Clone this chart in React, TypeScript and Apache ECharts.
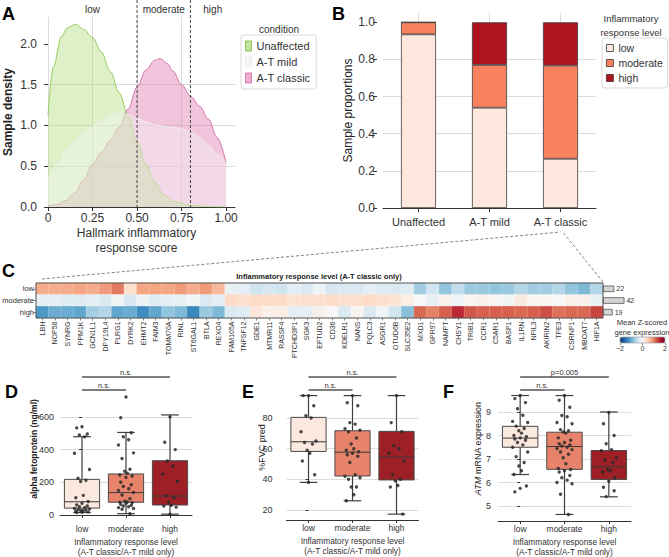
import React, { useEffect, useRef } from 'react';
import * as echarts from 'echarts';

const FONT = "'Liberation Sans', Arial, Helvetica, sans-serif";
const INK = '#333333';
const GRIDC = '#dcdcdc';

// ---------- Panel A: density curves ----------
const A_UNAFFECTED = [[0, 1.13], [0.03, 1.72], [0.075, 2.09], [0.11, 2.2], [0.155, 2.24], [0.2, 2.18], [0.25, 2.08], [0.3, 1.9], [0.35, 1.66], [0.4, 1.4], [0.45, 1.12], [0.5, 0.8], [0.55, 0.52], [0.6, 0.3], [0.65, 0.15], [0.7, 0.07], [0.8, 0.02], [0.9, 0.005], [1.0, 0]];
const A_MILD = [[0, 0.35], [0.05, 0.52], [0.1, 0.69], [0.15, 0.82], [0.2, 0.92], [0.25, 0.99], [0.3, 1.06], [0.35, 1.12], [0.4, 1.15], [0.45, 1.13], [0.5, 1.09], [0.55, 1.04], [0.6, 1.01], [0.65, 0.99], [0.7, 0.98], [0.75, 0.96], [0.8, 0.92], [0.85, 0.85], [0.9, 0.76], [0.95, 0.65], [1.0, 0.53]];
const A_CLASSIC = [[0, 0.01], [0.05, 0.03], [0.1, 0.08], [0.15, 0.17], [0.2, 0.33], [0.25, 0.52], [0.3, 0.67], [0.35, 0.82], [0.4, 0.98], [0.45, 1.2], [0.5, 1.47], [0.55, 1.68], [0.6, 1.8], [0.63, 1.82], [0.67, 1.76], [0.7, 1.67], [0.75, 1.5], [0.8, 1.36], [0.85, 1.24], [0.9, 1.08], [0.95, 0.85], [1.0, 0.54]];
const A_THRESHOLDS = [0.5, 0.8];
const A_XMAX = 1.05;
const A_XTICKS = [0, 0.25, 0.5, 0.75, 1];
const A_YTICKS = [0, 0.5, 1, 1.5, 2];

// ---------- Panel B: stacked proportions ----------
const B_CATS = ['Unaffected', 'A-T mild', 'A-T classic'];
const B_LOW = [0.935, 0.54, 0.265];
const B_MOD = [0.065, 0.23, 0.502];
const B_HIGH = [0, 0.23, 0.233];
const B_YTICKS = [0, 0.2, 0.4, 0.6, 0.8, 1.0];

const LEVELS = ['low', 'moderate', 'high'];
const LEVEL_COLORS = ['#fee7dc', '#f8825f', '#ad1420'];
const BOX_COLORS = ['#fbe8df', '#e7836a', '#9d2026'];

// ---------- Panel C: heatmap ----------
const GENES = ['LBH', 'NOP58', 'SYNRG', 'PPM1K', 'GCN1L1', 'DPY19L4', 'PLRG1', 'DYRK2', 'EHMT2', 'FAIM3', 'TOMM70A', 'RINL', 'ST6GAL1', 'BTLA', 'REXO4', 'FAM105A', 'TNFSF12', 'GDE1', 'MTMR11', 'RASSF4', 'PTCHD3P1', 'SGK3', 'EFTUD2', 'CD36', 'KDELR1', 'NANS', 'PQLC3', 'ASGR1', 'OTUD6B', 'SLC35E2', 'MXD1', 'GPR97', 'NAMPT', 'CHSY1', 'TRIB1', 'CCR1', 'C5AR1', 'BASP1', 'IL1RN', 'NFIL3', 'AKIRIN2', 'TFE3', 'CSRNP1', 'MBOAT7', 'HIF1A'];
const HM_LOW = [0.75, 0.75, 0.75, 0.8, 0.75, 0.85, 1.05, 0.35, 0.8, 0.8, 0.8, 0.85, 0.75, 0.85, 0.65, -0.15, -0.2, -0.4, -0.35, -0.4, -0.2, -0.3, -0.1, -0.35, -0.3, -0.3, -0.2, -0.25, -0.3, -0.25, -0.7, -0.4, -0.8, -0.5, -0.75, -0.75, -0.8, -0.75, -0.6, -0.7, -0.7, -0.6, -0.8, -0.9, -0.6];
const HM_MOD = [-0.2, -0.2, -0.25, -0.25, -0.2, -0.3, -0.05, -0.35, -0.1, -0.25, -0.2, -0.15, -0.05, -0.3, -0.2, 0.4, 0.35, 0.4, 0.4, 0.4, 0.3, 0.35, 0.35, 0.4, 0.35, 0.35, 0.4, 0.35, 0.3, 0.15, 0.0, -0.15, 0.1, -0.1, 0.05, 0.1, 0.05, -0.05, 0.2, 0.05, 0.05, 0.0, 0.1, 0.1, -0.15];
const HM_HIGH = [-1.15, -1.0, -1.0, -1.05, -0.7, -0.6, -1.05, -1.0, -1.25, -1.05, -0.8, -0.9, -1.3, -0.75, -0.9, -0.3, -0.25, 0.25, 0.1, 0.15, -0.2, -0.2, 0.1, 0.0, -0.3, 0.05, -0.3, -0.1, -0.4, -0.85, 1.15, 1.0, 1.2, 1.5, 1.25, 1.2, 1.2, 1.2, 1.15, 1.2, 1.3, 1.1, 1.15, 1.15, 1.35];
const HM_COUNTS = [22, 42, 19];
const RDBU_R = ['#053061', '#2166ac', '#4393c3', '#92c5de', '#d1e5f0', '#f7f7f7', '#fddbc7', '#f4a582', '#d6604d', '#b2182b', '#67001f'];

// ---------- Panels D/E/F: box + strip ----------
const D_BOX = [[15, 42, 81, 218, 479], [8, 78, 137, 251, 505], [5, 61, 116, 332, 612]];
const D_LOW = [540, 533, 495, 490, 478, 378, 278, 225, 212, 205, 120, 105, 82, 72, 62, 55, 50, 45, 40, 37, 33, 30, 27, 24, 21, 19, 17, 15];
const D_MOD = [722, 595, 503, 478, 460, 428, 380, 345, 280, 268, 255, 245, 238, 230, 200, 185, 175, 160, 150, 138, 122, 100, 85, 80, 78, 75, 70, 65, 60, 55, 50, 45, 40, 35, 8];
const D_HIGH = [600, 445, 400, 330, 298, 250, 205, 118, 105, 80, 60, 55, 48, 5];
const D_TICKS = [0, 200, 400, 600];

const E_BOX = [[38, 58.2, 64.5, 80.4, 94.6], [26, 42.2, 57.7, 71.7, 94.6], [17.3, 39.6, 54.5, 71.3, 94.6]];
const E_LOW = [94.6, 94.6, 88, 81.5, 80, 71, 65, 64, 63, 59, 57, 52, 43, 38];
const E_MOD = [94.6, 90, 88, 77, 76, 73, 72, 71, 67, 63, 60, 59, 58, 57, 56, 55, 51, 43, 42, 41, 40, 35, 35, 30, 26];
const E_HIGH = [94.6, 77, 71, 62, 60, 57, 52, 43, 40, 39, 36, 35, 17.3];
const E_TICKS = [20, 40, 60, 80];

const F_BOX = [[6.34, 7.5, 7.89, 8.39, 9.7], [4.64, 6.56, 7.53, 8.14, 9.7], [5.39, 6.13, 6.67, 7.36, 9.0]];
const F_LOW = [9.7, 9.57, 9.4, 9.14, 8.86, 8.6, 8.55, 8.4, 8.3, 8.2, 8.1, 8.0, 7.95, 7.9, 7.85, 7.8, 7.7, 7.6, 7.5, 7.3, 7.1, 6.85, 6.7, 6.5, 6.34, 5.85, 5.75, 5.6];
const F_MOD = [9.7, 9.5, 9.2, 8.85, 8.8, 8.55, 8.5, 8.25, 8.2, 8.15, 8.1, 7.9, 7.8, 7.7, 7.65, 7.6, 7.55, 7.5, 7.45, 7.4, 7.3, 7.2, 7.05, 6.8, 6.6, 6.55, 6.5, 6.45, 6.3, 6.2, 6.1, 6.0, 5.95, 5.5, 4.64];
const F_HIGH = [8.98, 8.5, 8.0, 7.65, 7.4, 7.35, 7.05, 6.95, 6.85, 6.55, 6.5, 6.45, 6.2, 6.05, 5.8, 5.65, 5.4];
const F_TICKS = [5, 6, 7, 8, 9];

const JITTER = [0, -0.12, 0.12, -0.06, 0.06, -0.17, 0.17, -0.09, 0.09, -0.03, 0.03, -0.14, 0.14];

const PANELS = [
  { key: 'D', box: D_BOX, pts: [D_LOW, D_MOD, D_HIGH], ticks: D_TICKS, interval: 200, name: 'alpha fetoprotein (ng/ml)', bold: true, yoff: 1, nameX: 33.5, nameY: 449, left: 60, top: 416.9, width: 132, height: 98.1, xoff: 6, brackets: ['n.s.', 'n.s.'] },
  { key: 'E', box: E_BOX, pts: [E_LOW, E_MOD, E_HIGH], ticks: E_TICKS, interval: 20, name: '%FVC pred', bold: false, yoff: 9, nameX: 262, nameY: 447.5, left: 286.5, top: 418, width: 132, height: 92, xoff: 10, brackets: ['n.s.', 'n.s.'] },
  { key: 'F', box: F_BOX, pts: [F_LOW, F_MOD, F_HIGH], ticks: F_TICKS, interval: 1, name: '{i|ATM} mRNA expression', bold: false, yoff: 2, nameX: 478, nameY: 448.5, left: 498, top: 412, width: 133, height: 94, xoff: 15, brackets: ['n.s.', 'p=0.005'] },
];

function stripData(groups: number[][]) {
  const out: number[][] = [];
  groups.forEach((vals, g) => vals.forEach((v, i) => out.push([g + JITTER[i % JITTER.length], v])));
  return out;
}

function boxRender(params: any, api: any) {
  const i = api.value(0);
  const p = (v: number) => api.coord([i, v]);
  const x = p(api.value(1))[0];
  const yMin = p(api.value(1))[1];
  const yQ1 = p(api.value(2))[1];
  const yMd = p(api.value(3))[1];
  const yQ3 = p(api.value(4))[1];
  const yMax = p(api.value(5))[1];
  const w = api.size([0.8, 0])[0];
  const cap = w / 4;
  const stroke = '#3f3f3f';
  const ls = { stroke, lineWidth: 1.2 };
  return {
    type: 'group',
    children: [
      { type: 'line', shape: { x1: x, y1: yMax, x2: x, y2: yQ3 }, style: ls },
      { type: 'line', shape: { x1: x, y1: yQ1, x2: x, y2: yMin }, style: ls },
      { type: 'line', shape: { x1: x - cap, y1: yMax, x2: x + cap, y2: yMax }, style: ls },
      { type: 'line', shape: { x1: x - cap, y1: yMin, x2: x + cap, y2: yMin }, style: ls },
      { type: 'rect', shape: { x: x - w / 2, y: yQ3, width: w, height: yQ1 - yQ3 }, style: { fill: BOX_COLORS[params.dataIndex], stroke: '#4a4a4a', lineWidth: 1 } },
      { type: 'line', shape: { x1: x - w / 2, y1: yMd, x2: x + w / 2, y2: yMd }, style: { stroke: '#3a3a3a', lineWidth: 1 } },
    ],
  };
}

const baseGrid = { containLabel: false, outerBoundsMode: 'none' };
const lbl = (o: any = {}) => ({ color: INK, fontFamily: FONT, ...o });

function buildOption() {
  const grids: any[] = [
    { ...baseGrid, left: 48, top: 17, width: 187, height: 190 },
    { ...baseGrid, left: 383, top: 13, width: 213, height: 195 },
    { ...baseGrid, left: 36, top: 283, width: 567, height: 35 },
    { ...baseGrid, left: 603, top: 283, width: 45, height: 35 },
    { ...baseGrid, left: 620, top: 337, width: 45, height: 6 },
  ];
  const xAxes: any[] = [
    {
      gridIndex: 0, type: 'value', min: 0, max: A_XMAX, interval: 0.25, nameMoveOverlap: false,
      axisLine: { show: true, lineStyle: { color: INK, width: 1 } },
      axisTick: { show: true, length: 4, customValues: A_XTICKS, lineStyle: { color: INK } },
      axisLabel: lbl({ fontSize: 12, margin: 5, customValues: A_XTICKS, formatter: (v: number) => (v === 0 ? '0' : v.toFixed(2)) }),
      splitLine: { show: true, showMaxLine: false, lineStyle: { color: GRIDC, width: 1 } },
      name: 'Hallmark inflammatory\nresponse score', nameLocation: 'middle', nameGap: 18.5,
      nameTextStyle: lbl({ fontSize: 12, lineHeight: 15, padding: [0, 10, 0, 0] }),
    },
    {
      gridIndex: 1, type: 'category', data: B_CATS, nameMoveOverlap: false,
      axisLine: { show: true, lineStyle: { color: INK, width: 1 } },
      axisTick: { show: true, alignWithLabel: true, length: 4, lineStyle: { color: INK } },
      axisLabel: lbl({ fontSize: 11, margin: 8, interval: 0 }),
      splitLine: { show: false },
    },
    {
      gridIndex: 2, type: 'category', data: GENES,
      axisLine: { show: false },
      axisTick: { show: true, alignWithLabel: true, length: 2.5, lineStyle: { color: INK, width: 0.6 } },
      axisLabel: lbl({ fontSize: 7, rotate: 90, margin: 3.5, interval: 0 }),
      splitLine: { show: false },
    },
    { gridIndex: 3, type: 'value', min: 0, max: 88, show: false },
    {
      gridIndex: 4, type: 'value', min: -2, max: 2, interval: 2, position: 'bottom',
      axisLine: { show: false },
      axisTick: { show: true, length: 2, lineStyle: { color: INK, width: 0.6 } },
      axisLabel: lbl({ fontSize: 7, margin: 2, formatter: (v: number) => (v < 0 ? '\u2212' + Math.abs(v) : String(v)) }),
      splitLine: { show: false },
    },
  ];
  const yAxes: any[] = [
    {
      gridIndex: 0, type: 'value', min: 0, max: 2.33, interval: 0.5, offset: 9, nameMoveOverlap: false,
      axisLine: { show: false },
      axisTick: { show: true, length: 4, customValues: A_YTICKS, lineStyle: { color: INK } },
      axisLabel: lbl({ fontSize: 12, margin: 2, customValues: A_YTICKS, formatter: (v: number) => v.toFixed(1) }),
      splitLine: { show: true, showMaxLine: false, lineStyle: { color: GRIDC, width: 1 } },
      name: 'Sample density', nameLocation: 'middle', nameGap: 25,
      nameTextStyle: lbl({ fontSize: 12, fontWeight: 'bold', color: '#222' }),
    },
    {
      gridIndex: 1, type: 'value', min: 0, max: 1.05, interval: 0.2, offset: 6, nameMoveOverlap: false,
      axisLine: { show: false },
      axisTick: { show: true, length: 4, customValues: B_YTICKS, lineStyle: { color: INK } },
      axisLabel: lbl({ fontSize: 12, margin: 2, customValues: B_YTICKS, formatter: (v: number) => v.toFixed(1) }),
      splitLine: { show: true, showMaxLine: false, lineStyle: { color: GRIDC, width: 1 } },
      name: 'Sample proportions', nameLocation: 'middle', nameGap: 23,
      nameTextStyle: lbl({ fontSize: 12, color: '#222' }),
    },
    {
      gridIndex: 2, type: 'category', data: LEVELS, inverse: true,
      axisLine: { show: false },
      axisTick: { show: true, alignWithLabel: true, length: 3, lineStyle: { color: INK, width: 0.6 } },
      axisLabel: lbl({ fontSize: 7.5, margin: 2 }),
      splitLine: { show: false },
    },
    { gridIndex: 3, type: 'category', data: LEVELS, inverse: true, show: false },
    { gridIndex: 4, type: 'value', min: 0, max: 1, show: false },
  ];

  const series: any[] = [
    {
      name: 'A-T classic', type: 'line', xAxisIndex: 0, yAxisIndex: 0, data: A_CLASSIC, smooth: 0.35, smoothMonotone: 'x',
      showSymbol: false, z: 2, lineStyle: { color: '#d675ac', width: 1 }, itemStyle: { color: '#de77ae' },
      areaStyle: { color: 'rgba(222,119,174,0.6)' }, silent: true,
    },
    {
      name: 'Unaffected', type: 'line', xAxisIndex: 0, yAxisIndex: 0, data: A_UNAFFECTED, smooth: 0.35, smoothMonotone: 'x',
      showSymbol: false, z: 3, lineStyle: { color: '#97cd62', width: 1 }, itemStyle: { color: '#a6d96a' },
      areaStyle: { color: 'rgba(166,217,106,0.55)' }, silent: true,
    },
    {
      name: 'A-T mild', type: 'line', xAxisIndex: 0, yAxisIndex: 0, data: A_MILD, smooth: 0.35, smoothMonotone: 'x',
      showSymbol: false, z: 4, lineStyle: { color: '#eeeeee', width: 1 }, itemStyle: { color: '#f7f7f7' },
      areaStyle: { color: 'rgba(248,248,248,0.55)' }, silent: true,
    },
    ...[B_LOW, B_MOD, B_HIGH].map((d, i) => ({
      name: LEVELS[i], type: 'bar', stack: 'b', xAxisIndex: 1, yAxisIndex: 1, data: d, barWidth: 35, z: 3,
      itemStyle: { color: LEVEL_COLORS[i], borderColor: '#3f3f3f', borderWidth: 0.8 }, silent: true,
    })),
    { name: 'bdummy', type: 'scatter', xAxisIndex: 1, yAxisIndex: 1, data: [], silent: true },
    {
      name: 'heat', type: 'heatmap', xAxisIndex: 2, yAxisIndex: 2, silent: true,
      data: [HM_LOW, HM_MOD, HM_HIGH].flatMap((row, r) => row.map((v, g) => [g, r, v])),
      itemStyle: { borderColor: 'rgba(255,255,255,0.35)', borderWidth: 0.5 },
    },
    {
      name: 'counts', type: 'bar', xAxisIndex: 3, yAxisIndex: 3, data: HM_COUNTS, barWidth: 6.5, silent: true,
      itemStyle: { color: '#d4d4d4', borderColor: '#555', borderWidth: 0.8 },
      label: { show: true, position: 'right', distance: 2, fontSize: 7, color: INK, fontFamily: FONT },
    },
    { name: 'cb', type: 'scatter', xAxisIndex: 4, yAxisIndex: 4, data: [], silent: true },
  ];

  const legends: any[] = [
    {
      left: 241, top: 35, orient: 'vertical', icon: 'rect', itemWidth: 6, itemHeight: 10, itemGap: 4,
      padding: [5, 6, 5, 4], borderColor: '#d9d9d9', borderWidth: 1, borderRadius: 3, selectedMode: false,
      textStyle: lbl({ fontSize: 11, lineHeight: 12 }),
      data: [
        { name: 'Unaffected', itemStyle: { color: '#c3e29e', borderColor: '#8cc653', borderWidth: 1 } },
        { name: 'A-T mild', itemStyle: { color: '#f5f5f5', borderColor: '#ececec', borderWidth: 1 } },
        { name: 'A-T classic', itemStyle: { color: '#ecaed1', borderColor: '#d97bb0', borderWidth: 1 } },
      ],
    },
    {
      left: 602, top: 38, orient: 'vertical', icon: 'rect', itemWidth: 7, itemHeight: 7, itemGap: 3,
      padding: [4, 5, 4, 4], borderColor: '#d9d9d9', borderWidth: 1, borderRadius: 3, selectedMode: false,
      textStyle: lbl({ fontSize: 10.5, lineHeight: 12 }),
      data: LEVELS.map((n, i) => ({ name: n, itemStyle: { color: LEVEL_COLORS[i], borderColor: '#333', borderWidth: 0.8 } })),
    },
  ];

  PANELS.forEach((P) => {
    const gi = grids.length;
    grids.push({ ...baseGrid, left: P.left, top: P.top, width: P.width, height: P.height });
    xAxes.push({
      gridIndex: gi, type: 'category', data: LEVELS, offset: P.xoff, nameMoveOverlap: false,
      axisLine: { show: true, lineStyle: { color: INK, width: 1 } },
      axisTick: { show: true, alignWithLabel: true, length: 3, lineStyle: { color: INK } },
      axisLabel: lbl({ fontSize: 8.5, margin: 3, interval: 0 }),
      splitLine: { show: false },
      name: 'Inflammatory response level\n(A-T classic/A-T mild only)', nameLocation: 'middle', nameGap: 15.5,
      nameTextStyle: lbl({ fontSize: 8.3, lineHeight: 10 }),
    });
    const valX = xAxes.length;
    xAxes.push({ gridIndex: gi, type: 'value', min: -0.5, max: 2.5, show: false });
    const yi = yAxes.length;
    yAxes.push({
      gridIndex: gi, type: 'value', min: P.ticks[0], max: P.ticks[P.ticks.length - 1], interval: P.interval, offset: P.yoff,
      axisLine: { show: false },
      axisTick: { show: true, length: 3, lineStyle: { color: INK } },
      axisLabel: { show: false },
      splitLine: { show: true, lineStyle: { color: GRIDC, width: 1 } },
    });
    series.push({
      name: 'box' + P.key, type: 'custom', xAxisIndex: valX, yAxisIndex: yi, renderItem: boxRender, silent: true, z: 2, clip: false,
      encode: { x: 0, y: [1, 2, 3, 4, 5] },
      data: P.box.map((b, i) => [i, ...b]),
    });
    series.push({
      name: 'pts' + P.key, type: 'scatter', xAxisIndex: valX, yAxisIndex: yi, silent: true, z: 5, clip: false,
      symbolSize: 3.4, itemStyle: { color: '#2a2a2a', opacity: 0.85 },
      data: stripData(P.pts),
    });
    (P as any).valX = valX;
    (P as any).yi = yi;
  });

  return {
    animation: false,
    textStyle: { fontFamily: FONT },
    grid: grids,
    xAxis: xAxes,
    yAxis: yAxes,
    legend: legends,
    visualMap: [{
      type: 'continuous', min: -2, max: 2, seriesIndex: 7, orient: 'horizontal', left: 620, top: 337,
      itemWidth: 6, itemHeight: 45, padding: 0, calculable: false, hoverLink: false, realtime: false,
      inRange: { color: RDBU_R },
    }],
    series,
  };
}

function buildGraphics(chart: any) {
  const g: any[] = [];
  const px = (axis: number, v: any) => chart.convertToPixel({ xAxisIndex: axis }, v) as number;
  const py = (axis: number, v: any) => chart.convertToPixel({ yAxisIndex: axis }, v) as number;
  const text = (x: number, y: number, t: string, o: any = {}) => ({
    type: 'text', x, y, silent: true, z: 100, rotation: o.rot ?? 0,
    style: {
      text: t, fontFamily: FONT, fontSize: o.size ?? 10, fontWeight: o.weight ?? 'normal', fill: o.fill ?? INK,
      align: o.align ?? 'center', verticalAlign: 'middle', lineHeight: o.lh, rich: o.rich,
    },
  });
  const line = (x1: number, y1: number, x2: number, y2: number, o: any = {}) => ({
    type: 'line', silent: true, z: o.z ?? 100,
    shape: { x1, y1, x2, y2 },
    style: { stroke: o.stroke ?? '#555', lineWidth: o.w ?? 1, lineDash: o.dash },
  });

  // panel letters
  [['A', 2, 13.5], ['B', 332, 13.5], ['C', 2, 271], ['D', 5, 391.5], ['E', 242, 392], ['F', 443, 392]].forEach(([t, x, y]) => {
    g.push(text(x as number, y as number, t as string, { size: 18, weight: 'bold', align: 'left', fill: '#000' }));
  });

  // Panel A: thresholds and level labels
  const aBottom = py(0, 0);
  A_THRESHOLDS.forEach((t) => {
    const x = px(0, t);
    g.push(line(x, 0, x, aBottom, { stroke: '#555', w: 1.1, dash: [3, 2], z: 50 }));
  });
  const bounds = [0, ...A_THRESHOLDS, A_XMAX];
  ['low', 'moderate', 'high'].forEach((n, i) => {
    g.push(text(px(0, (bounds[i] + bounds[i + 1]) / 2), 9, n, { size: 10 }));
  });
  g.push(text(279, 29, 'condition', { size: 10 }));

  // Panel B: vertical gridlines above the bars, legend title
  const bTop = py(1, 1.05);
  const bOne = py(1, 1.0);
  B_CATS.forEach((c) => {
    const x = px(1, c);
    g.push(line(x, bTop, x, bOne, { stroke: GRIDC, w: 1, z: 0 }));
  });
  g.push(text(631, 25, 'Inflammatory\nresponse level', { size: 9.5, lh: 14 }));

  // Panel C
  g.push({ type: 'rect', silent: true, z: 100, shape: { x: 36, y: 283, width: 567, height: 35 }, style: { fill: 'none', stroke: '#555', lineWidth: 1 } });
  g.push(text(319, 276, 'Inflammatory response level (A-T classic only)', { size: 7.5, weight: 'bold', fill: '#222' }));
  g.push(text(642, 327, 'Mean Z-scored\ngene expression', { size: 7.5, lh: 10 }));
  g.push({ type: 'rect', silent: true, z: 100, shape: { x: 620, y: 337, width: 45, height: 6 }, style: { fill: 'none', stroke: '#999', lineWidth: 0.6 } });

  // connector from B to C
  const pc = px(1, 'A-T classic');
  g.push(line(42, 279, pc, 232, { stroke: '#777', w: 0.9, dash: [3, 2] }));
  g.push(line(pc + 3, 233, 603, 282, { stroke: '#777', w: 0.9, dash: [3, 2] }));

  // D/E/F: y tick labels, y titles and significance brackets
  PANELS.forEach((P: any) => {
    P.ticks.forEach((v: number) => {
      g.push(text(P.left - P.yoff - 5, py(P.yi, v), String(v), { size: 9, align: 'right' }));
    });
    g.push(text(P.nameX, P.nameY, P.name, {
      size: P.bold ? 8.5 : 9, weight: P.bold ? 'bold' : 'normal', fill: '#222', rot: Math.PI / 2,
      rich: { i: { fontStyle: 'italic', fontSize: 9, fontFamily: FONT, fill: '#222' } },
    }));
    const x0 = px(P.valX, 0);
    const x1 = px(P.valX, 1);
    const x2 = px(P.valX, 2);
    g.push(line(x0, 390, x1, 390, { stroke: '#555', w: 1.5 }));
    g.push(line(x0, 377, x2, 377, { stroke: '#555', w: 1.5 }));
    g.push(text((x0 + x1) / 2, 385, P.brackets[0], { size: 7.5 }));
    g.push(text((x0 + x2) / 2, 372, P.brackets[1], { size: 7.5 }));
  });
  return g;
}

export default function App() {
  const ref = useRef<HTMLDivElement>(null);
  useEffect(() => {
    if (!ref.current) return;
    const chart = echarts.init(ref.current, null, { renderer: 'svg', width: 669, height: 557 });
    chart.setOption(buildOption() as any);
    chart.setOption({ graphic: buildGraphics(chart) } as any);
    return () => chart.dispose();
  }, []);
  return <div ref={ref} style={{ position: 'absolute', left: 0, top: 0, width: 669, height: 557, background: '#fff' }} />;
}
